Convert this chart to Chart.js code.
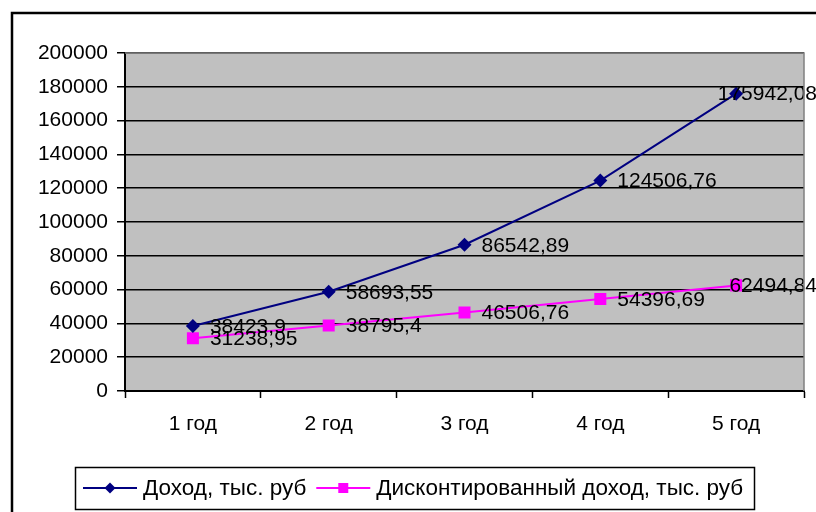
<!DOCTYPE html>
<html>
<head>
<meta charset="utf-8">
<script src="https://cdn.jsdelivr.net/npm/chart.js@4/dist/chart.umd.min.js"></script>
<style>
  html, body { margin: 0; padding: 0; background: #ffffff; }
  #wrap { width: 816px; height: 512px; }
</style>
</head>
<body>
<div id="wrap"><canvas id="c" width="816" height="512"></canvas></div>
<script>
// Годы прогноза
const categories = ['1 год', '2 год', '3 год', '4 год', '5 год'];
// Доход, тыс. руб
const income = [38423.9, 58693.55, 86542.89, 124506.76, 175942.08];
// Дисконтированный доход, тыс. руб
const discounted = [31238.95, 38795.4, 46506.76, 54396.69, 62494.84];
const seriesNames = ['Доход, тыс. руб', 'Дисконтированный доход, тыс. руб'];
const yMin = 0, yMax = 200000, yStep = 20000;

const FONT = '"Liberation Sans", Arial, sans-serif';
const SIZE = 21;
const LEGEND_SIZE = 22.5;

// Серый фон области построения и рамка всей диаграммы
const frame = {
  id: 'frame',
  beforeDraw(chart) {
    const ctx = chart.ctx, a = chart.chartArea;
    ctx.save();
    ctx.fillStyle = '#ffffff';
    ctx.fillRect(0, 0, chart.width, chart.height);
    ctx.strokeStyle = '#000000';
    ctx.lineWidth = 2.5;
    ctx.strokeRect(12, 13, 900, 600);
    ctx.fillStyle = '#c0c0c0';
    ctx.fillRect(a.left, a.top, a.right - a.left, a.bottom - a.top);
    ctx.restore();
  },
  afterDraw(chart) {
    const ctx = chart.ctx, a = chart.chartArea;
    ctx.save();
    ctx.strokeStyle = '#808080';
    ctx.lineWidth = 1.5;
    ctx.beginPath();
    ctx.moveTo(a.left, a.top);
    ctx.lineTo(a.right, a.top);
    ctx.lineTo(a.right, a.bottom);
    ctx.stroke();
    ctx.restore();
  }
};

// Подписи значений справа от точек
const valueLabels = {
  id: 'valueLabels',
  afterDatasetsDraw(chart) {
    const ctx = chart.ctx;
    ctx.save();
    ctx.font = SIZE + 'px ' + FONT;
    ctx.fillStyle = '#000000';
    ctx.textBaseline = 'middle';
    ctx.textAlign = 'left';
    chart.data.datasets.forEach((ds, di) => {
      chart.getDatasetMeta(di).data.forEach((el, i) => {
        const txt = String(ds.data[i]).replace('.', ',');
        const w = ctx.measureText(txt).width;
        const x = Math.min(el.x + 17, 817 - w);
        ctx.fillText(txt, x, el.y + 1);
      });
    });
    ctx.restore();
  }
};

function marker(ctx, style, color, x, y) {
  ctx.fillStyle = color;
  ctx.beginPath();
  if (style === 'rectRot') {
    ctx.moveTo(x, y - 5.5); ctx.lineTo(x + 5.5, y); ctx.lineTo(x, y + 5.5); ctx.lineTo(x - 5.5, y);
    ctx.closePath();
  } else {
    ctx.rect(x - 5, y - 5, 10, 10);
  }
  ctx.fill();
}

// Легенда в рамке под осью категорий
const boxLegend = {
  id: 'boxLegend',
  afterDraw(chart) {
    const ctx = chart.ctx;
    ctx.save();
    ctx.strokeStyle = '#000000';
    ctx.lineWidth = 1.5;
    ctx.strokeRect(75.5, 467.5, 679, 42);
    ctx.font = LEGEND_SIZE + 'px ' + FONT;
    ctx.textBaseline = 'middle';
    let x = 83;
    const y = 488;
    chart.data.datasets.forEach((ds) => {
      ctx.strokeStyle = ds.borderColor;
      ctx.lineWidth = 2;
      ctx.beginPath();
      ctx.moveTo(x, y); ctx.lineTo(x + 54, y);
      ctx.stroke();
      marker(ctx, ds.pointStyle, ds.pointBackgroundColor, x + 27, y);
      ctx.fillStyle = '#000000';
      ctx.fillText(ds.label, x + 60, y + 1);
      x += 60 + ctx.measureText(ds.label).width + 10;
    });
    ctx.restore();
  }
};

new Chart(document.getElementById('c'), {
  type: 'line',
  data: {
    labels: categories,
    datasets: [
      {
        label: seriesNames[0],
        data: income,
        borderColor: '#000080',
        backgroundColor: '#000080',
        pointBackgroundColor: '#000080',
        pointBorderColor: '#000080',
        pointStyle: 'rectRot',
        pointRadius: 7,
        pointBorderWidth: 0,
        borderWidth: 2,
        tension: 0
      },
      {
        label: seriesNames[1],
        data: discounted,
        borderColor: '#ff00ff',
        backgroundColor: '#ff00ff',
        pointBackgroundColor: '#ff00ff',
        pointBorderColor: '#ff00ff',
        pointStyle: 'rect',
        pointRadius: 8.5,
        pointBorderWidth: 0,
        borderWidth: 2,
        tension: 0
      }
    ]
  },
  options: {
    responsive: false,
    animation: false,
    events: [],
    layout: { padding: { top: 53, right: 12, left: 0, bottom: 0 } },
    plugins: { legend: { display: false }, tooltip: { enabled: false } },
    scales: {
      x: {
        type: 'category',
        offset: true,
        grid: {
          offset: true,
          drawOnChartArea: false,
          drawTicks: true,
          tickLength: 7,
          tickWidth: 1.5,
          tickColor: '#000000'
        },
        border: { color: '#000000', width: 2 },
        ticks: { color: '#000000', font: { family: FONT, size: SIZE }, padding: 14, maxRotation: 0 },
        afterFit(s) { s.height = 121; }
      },
      y: {
        min: yMin,
        max: yMax,
        grid: { color: '#000000', lineWidth: 1.5, tickLength: 8, tickColor: '#000000', tickWidth: 1.5 },
        border: { color: '#000000', width: 2 },
        ticks: {
          stepSize: yStep,
          color: '#000000',
          font: { family: FONT, size: SIZE },
          padding: 9,
          callback: (v) => String(v)
        },
        afterFit(s) { s.width = 125; }
      }
    }
  },
  plugins: [frame, valueLabels, boxLegend]
});
</script>
</body>
</html>
